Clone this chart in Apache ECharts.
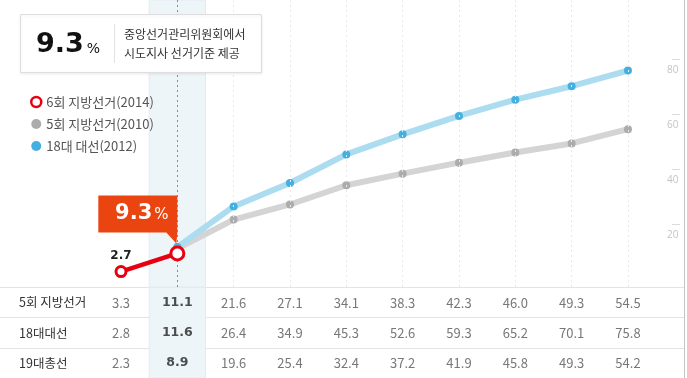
<!DOCTYPE html>
<html>
<head>
<meta charset="utf-8">
<script src="https://cdn.jsdelivr.net/npm/echarts@6/dist/echarts.min.js"></script>
<style>
  html, body { margin: 0; padding: 0; background: #fff; }
  #chart { width: 687px; height: 378px; }
</style>
</head>
<body>
<div id="chart"></div>
<script>
// 투표율 (%) - 시간대별
const rowNames = ['5회 지방선거', '18대대선', '19대총선'];
const turnout2010 = [3.3, 11.1, 21.6, 27.1, 34.1, 38.3, 42.3, 46.0, 49.3, 54.5];
const turnout2012 = [2.8, 11.6, 26.4, 34.9, 45.3, 52.6, 59.3, 65.2, 70.1, 75.8];
const turnout2012Gen = [2.3, 8.9, 19.6, 25.4, 32.4, 37.2, 41.9, 45.8, 49.3, 54.2];
const turnout2014 = [2.7, 9.3];
const highlightIndex = 1;
const yTickMax = 80;
const yTickStep = 20;
const legendNames = ['6회 지방선거(2014)', '5회 지방선거(2010)', '18대 대선(2012)'];
const headline = '9.3';
const sourceLines = ['중앙선거관리위원회에서', '시도지사 선거기준 제공'];

const FONT = '"Noto Sans CJK KR", "Noto Sans", sans-serif';

// layout: column 0 sits at x=121, columns 56.33px apart, grid is 684px wide
const firstX = 121;
const step = 56.33;
const gridW = 684;
const xMin = -firstX / step;
const xMax = (gridW - firstX) / step;

// plot area: value 0 at y=279, 2.75px per %, plot bottom at y=287
const y0 = 279;
const pxPer = 2.75;
const plotH = 287;
const yMin = -(plotH - y0) / pxPer;
const yMax = y0 / pxPer;

const toPairs = (arr) => arr.map((v, i) => [i, v]);

const tableData = [];
[turnout2010, turnout2012, turnout2012Gen].forEach((row, r) => {
  row.forEach((v, i) => {
    const bold = i === highlightIndex;
    tableData.push({
      value: [i, rowNames[r], v],
      label: bold ? { fontWeight: 'bold', fontFamily: 'DejaVu Sans', fontSize: 12.5, color: '#222' } : {}
    });
  });
});

const splitMarks = turnout2010.map((v, i) => i).filter(i => i > 0).map(i => ({
  xAxis: i,
  lineStyle: i === highlightIndex
    ? { color: '#8c8c8c', type: [2, 3], width: 1 }
    : { color: '#e9e9e9', type: [2, 3], width: 1 }
}));

const bandStyle = { color: '#eef5f8', borderColor: '#e2ebf0', borderWidth: 1 };

const chart = echarts.init(document.getElementById('chart'));

chart.setOption({
  backgroundColor: '#fff',
  animation: false,
  textStyle: { fontFamily: FONT },
  legend: {
    orient: 'vertical',
    left: 25,
    top: 90,
    itemWidth: 10,
    itemHeight: 10,
    itemGap: 8,
    textStyle: { fontSize: 13, color: '#555', lineHeight: 14, fontFamily: FONT },
    data: [
      { name: legendNames[0], icon: 'circle', itemStyle: { color: '#fff', borderColor: '#e60012', borderWidth: 2.5 } },
      { name: legendNames[1], icon: 'circle', itemStyle: { color: '#acacac', borderWidth: 0 } },
      { name: legendNames[2], icon: 'circle', itemStyle: { color: '#45b0e0', borderWidth: 0 } }
    ]
  },
  grid: [
    { left: 0, top: 0, width: gridW, height: plotH },
    { left: 0, top: 287.5, width: gridW, height: 93 },
    // narrow strip holding the right-hand % scale
    { left: 672, top: y0 - yTickMax * pxPer, width: 8, height: yTickMax * pxPer }
  ],
  xAxis: [
    { type: 'value', gridIndex: 0, min: xMin, max: xMax, show: false },
    { type: 'value', gridIndex: 1, min: xMin, max: xMax, show: false },
    { type: 'value', gridIndex: 2, min: 0, max: 1, show: false }
  ],
  yAxis: [
    { type: 'value', gridIndex: 0, min: yMin, max: yMax, show: false },
    {
      type: 'category',
      gridIndex: 1,
      inverse: true,
      data: rowNames,
      axisLine: { show: false },
      axisTick: { show: false },
      splitLine: { show: true, lineStyle: { color: '#e3e3e3', width: 1 } },
      axisLabel: { inside: true, margin: 19, fontSize: 12.5, color: '#333', fontFamily: FONT }
    },
    {
      type: 'value',
      gridIndex: 2,
      position: 'left',
      min: 0,
      max: yTickMax,
      interval: yTickStep,
      axisLine: { show: false },
      axisTick: { show: false },
      splitLine: { show: true, showMinLine: false, lineStyle: { color: '#dcdcdc', width: 1 } },
      axisLabel: {
        showMinLabel: false,
        inside: true,
        margin: -5,
        verticalAlign: 'top',
        padding: [6, 0, 0, 0],
        fontSize: 10,
        color: '#c4c4c4',
        fontFamily: 'Open Sans'
      }
    }
  ],
  series: [
    {
      name: legendNames[1],
      type: 'line',
      xAxisIndex: 0,
      yAxisIndex: 0,
      data: toPairs(turnout2010).slice(1),
      symbol: 'circle',
      symbolSize: 8,
      showAllSymbol: true,
      lineStyle: { color: '#d4d4d4', width: 6 },
      itemStyle: { color: '#acacac', borderWidth: 0 },
      emphasis: { disabled: true },
      z: 3,
      markArea: {
        silent: true,
        itemStyle: bandStyle,
        label: { show: false },
        data: [[{ xAxis: highlightIndex - 0.5 }, { xAxis: highlightIndex + 0.5 }]]
      },
      markLine: {
        silent: true,
        symbol: 'none',
        label: { show: false },
        data: splitMarks
      }
    },
    {
      name: legendNames[2],
      type: 'line',
      xAxisIndex: 0,
      yAxisIndex: 0,
      data: toPairs(turnout2012).slice(1),
      symbol: 'circle',
      symbolSize: 8,
      showAllSymbol: true,
      lineStyle: { color: '#acdcf0', width: 6 },
      itemStyle: { color: '#45b0e0', borderWidth: 0 },
      emphasis: { disabled: true },
      z: 4
    },
    {
      name: legendNames[0],
      type: 'line',
      xAxisIndex: 0,
      yAxisIndex: 0,
      data: toPairs(turnout2014),
      symbol: 'circle',
      symbolSize: (val, p) => (p.dataIndex === highlightIndex ? 13 : 10),
      showAllSymbol: true,
      lineStyle: { color: '#e60012', width: 4.5 },
      itemStyle: { color: '#fff', borderColor: '#e60012', borderWidth: 3 },
      emphasis: { disabled: true },
      label: {
        show: true,
        position: 'top',
        distance: 3,
        fontFamily: 'DejaVu Sans',
        fontWeight: 'bold',
        fontSize: 12,
        color: '#222',
        formatter: (p) => (p.dataIndex === highlightIndex ? '' : p.value[1].toFixed(1))
      },
      z: 6,
      markPoint: {
        silent: true,
        symbol: 'path://M0 0H79V37L78 48L68 37H0Z',
        symbolSize: [79, 48],
        symbolOffset: [-39.5, -34],
        itemStyle: { color: '#ea4410' },
        label: {
          show: true,
          position: 'inside',
          offset: [4, -6],
          formatter: (p) => '{a|' + p.value.toFixed(1) + '}{b|%}',
          rich: {
            a: { fontFamily: 'DejaVu Sans', fontWeight: 'bold', fontSize: 21, color: '#fff' },
            b: { fontFamily: 'DejaVu Sans', fontSize: 15, color: '#fff', padding: [3, 0, 0, 2] }
          }
        },
        data: [{ coord: [highlightIndex, turnout2014[highlightIndex]], value: turnout2014[highlightIndex] }]
      }
    },
    {
      name: 'table',
      type: 'scatter',
      xAxisIndex: 1,
      yAxisIndex: 1,
      symbolSize: 0,
      silent: true,
      data: tableData,
      label: {
        show: true,
        position: 'inside',
        fontSize: 13,
        color: '#555',
        fontFamily: FONT,
        formatter: (p) => p.value[2].toFixed(1)
      },
      z: 3,
      markArea: {
        silent: true,
        itemStyle: bandStyle,
        label: { show: false },
        data: [[{ xAxis: highlightIndex - 0.5 }, { xAxis: highlightIndex + 0.5 }]]
      }
    }
  ],
  graphic: [
    {
      type: 'line',
      z: 50,
      shape: { x1: 684.5, y1: 0, x2: 684.5, y2: 378 },
      style: { stroke: '#c4c4c4', lineWidth: 1 }
    },
    {
      type: 'rect',
      z: 100,
      shape: { x: 20.5, y: 14.5, width: 241, height: 58 },
      style: { fill: '#fff', stroke: '#dedede', lineWidth: 1, shadowBlur: 3, shadowColor: 'rgba(0,0,0,0.08)', shadowOffsetY: 1 }
    },
    {
      type: 'line',
      z: 101,
      shape: { x1: 114.5, y1: 24, x2: 114.5, y2: 63 },
      style: { stroke: '#e2e2e2', lineWidth: 1 }
    },
    {
      type: 'text',
      z: 101,
      x: 36,
      y: 45,
      style: {
        text: '{a|' + headline + '}{b|%}',
        rich: {
          a: { fontFamily: 'DejaVu Sans', fontWeight: 'bold', fontSize: 27, fill: '#111' },
          b: { fontFamily: 'DejaVu Sans', fontSize: 14, fill: '#111', padding: [9, 0, 0, 3] }
        },
        verticalAlign: 'middle'
      }
    },
    {
      type: 'text',
      z: 101,
      x: 124,
      y: 34,
      style: { text: sourceLines[0], fontFamily: FONT, fontSize: 12, fill: '#333', verticalAlign: 'middle' }
    },
    {
      type: 'text',
      z: 101,
      x: 124,
      y: 53,
      style: { text: sourceLines[1], fontFamily: FONT, fontSize: 12, fill: '#333', verticalAlign: 'middle' }
    }
  ]
});
</script>
</body>
</html>
